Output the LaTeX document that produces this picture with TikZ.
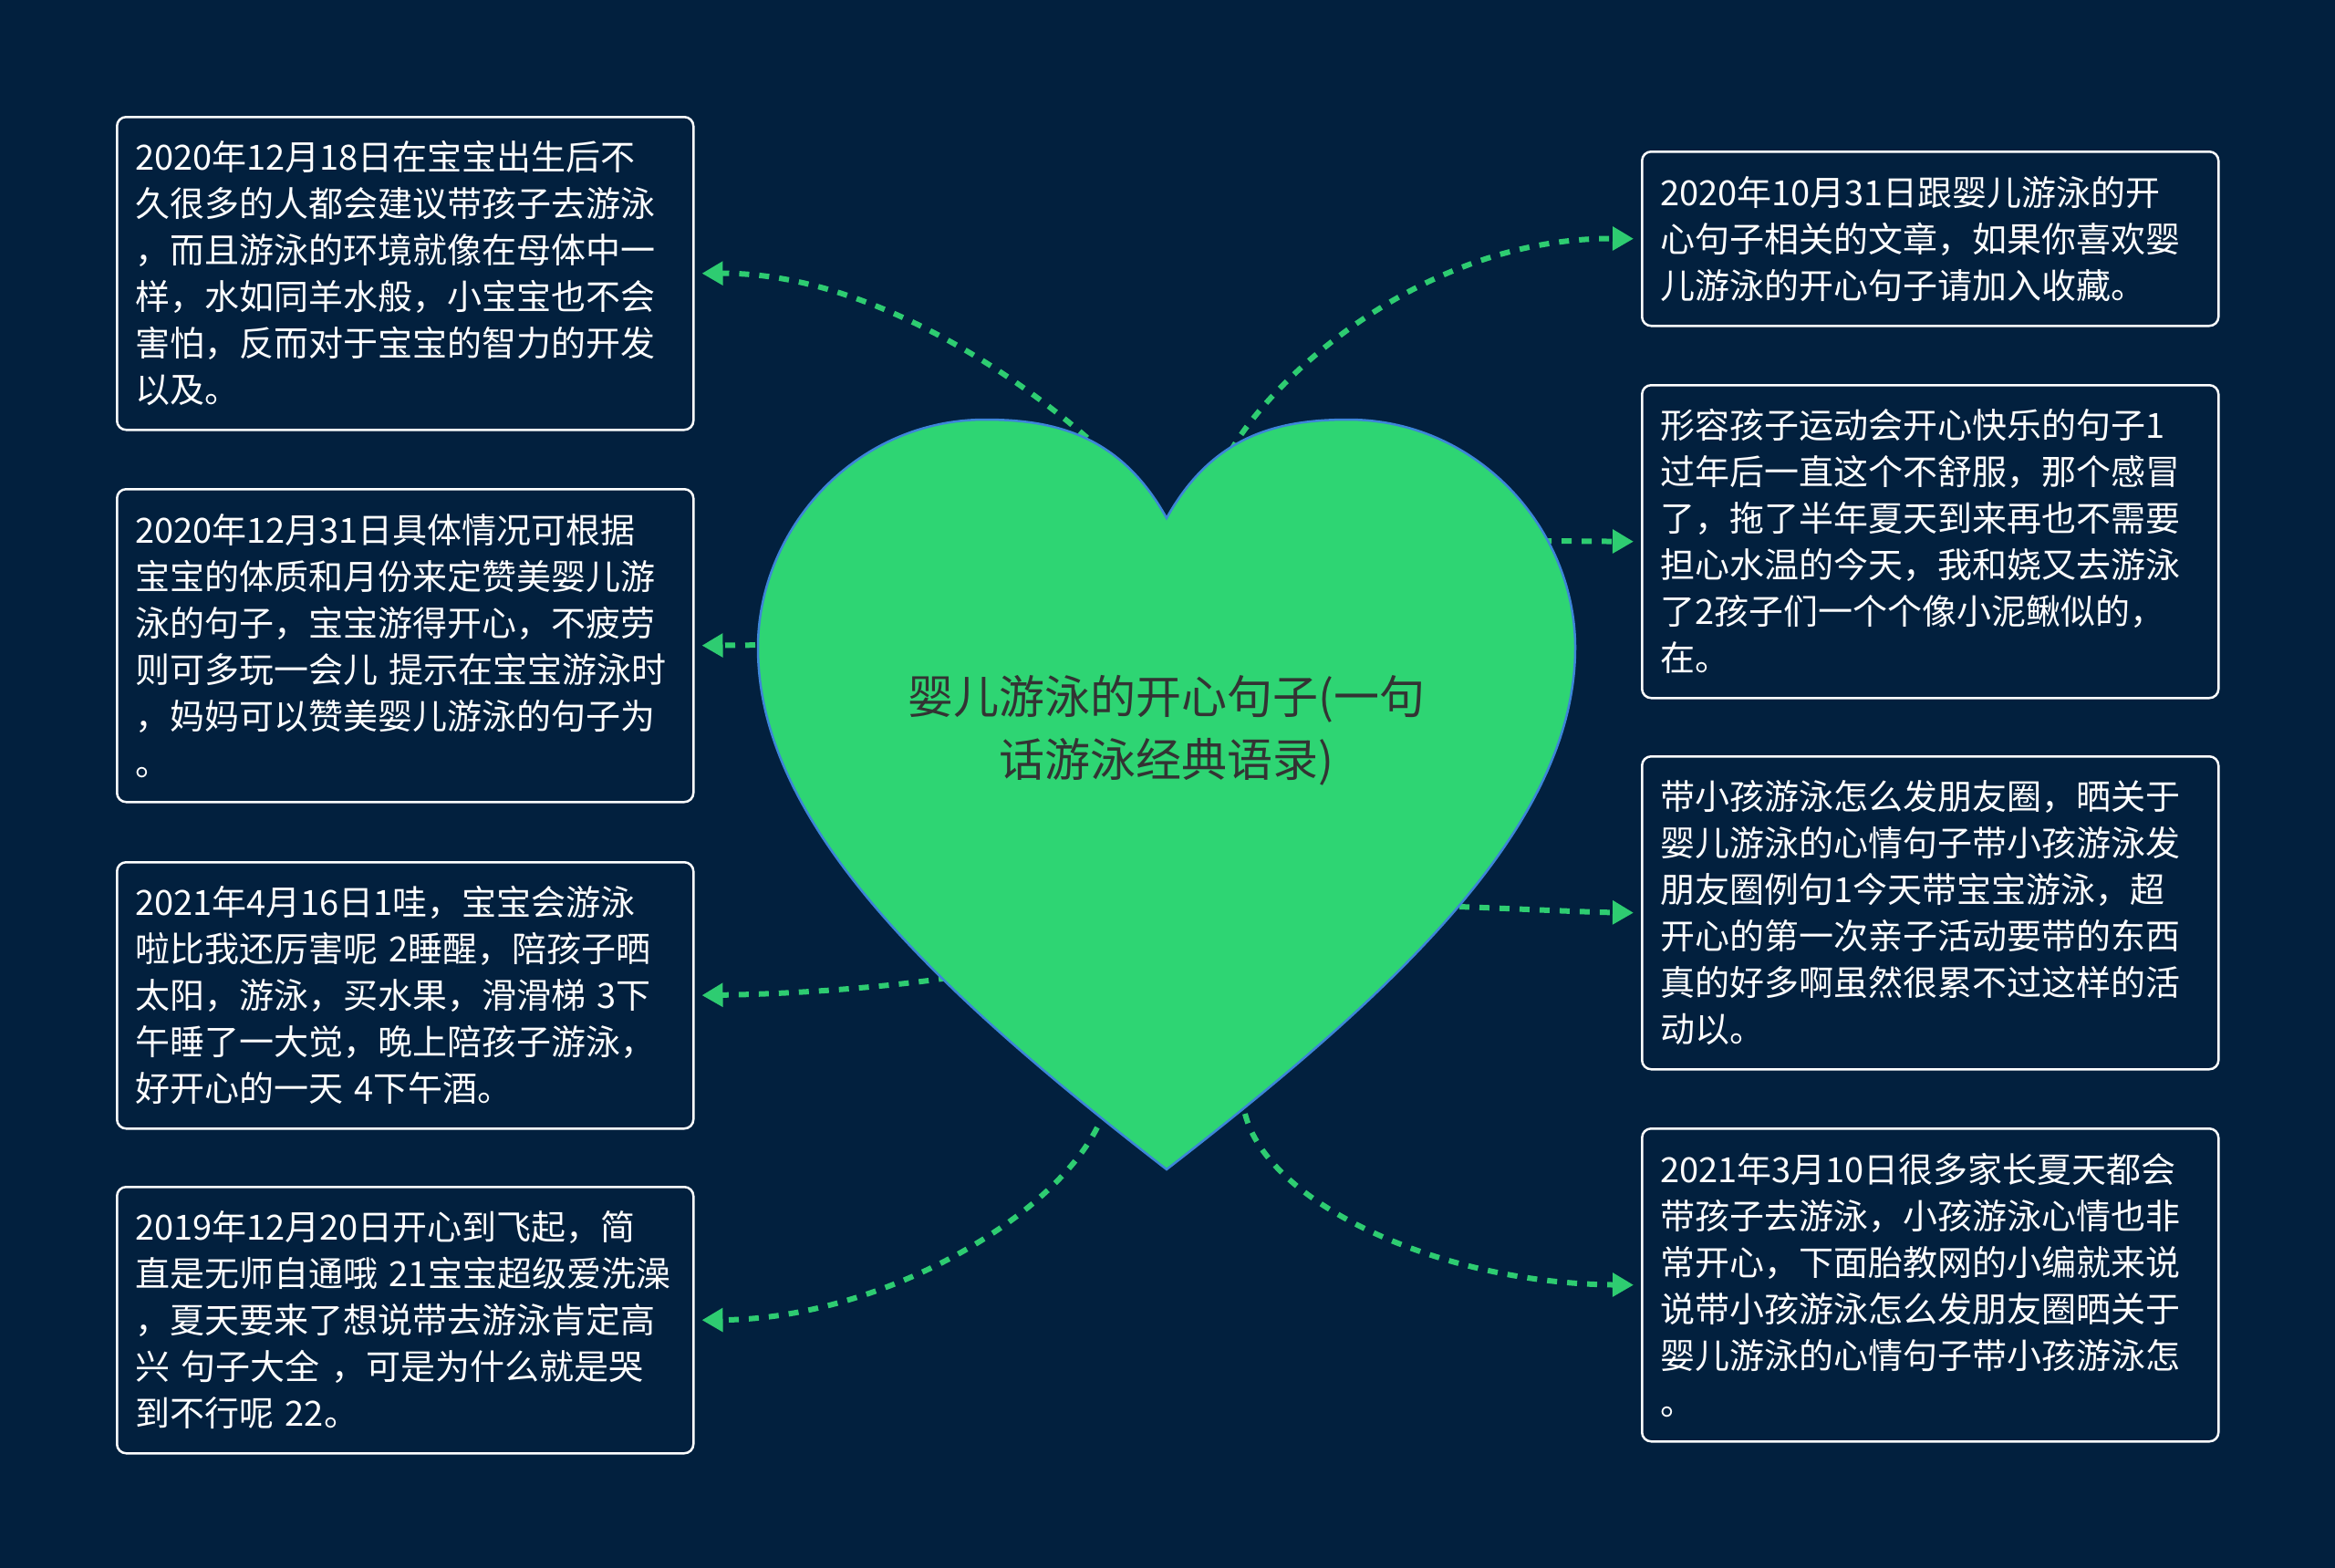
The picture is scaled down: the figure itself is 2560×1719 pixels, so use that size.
\documentclass[tikz,border=0pt]{standalone}
\usepackage{fontspec}
\newfontfamily\cjk{Noto Sans CJK SC}
\usetikzlibrary{arrows.meta}
\definecolor{bg}{HTML}{02203E}
\definecolor{heartgreen}{HTML}{2ED573}
\definecolor{heartline}{HTML}{3D85D8}
\definecolor{conngreen}{HTML}{2ECC71}
\definecolor{hearttext}{HTML}{333333}
\begin{document}
\begin{tikzpicture}[x=1pt,y=-1pt,
  box/.style={draw=white, line width=2.5pt, rounded corners=10pt, fill=bg,
    minimum width=632pt, text width=592pt, inner xsep=20pt, inner ysep=0pt,
    align=left, text=white, font=\cjk\fontsize{38}{51}\selectfont, anchor=north west},
  conn/.style={draw=conngreen, line width=6pt, dash pattern=on 11pt off 11pt,
    -{Triangle[length=23pt,width=25pt,fill=conngreen]}, shorten >=8pt},
  titletext/.style={font=\cjk\fontsize{50}{69}\selectfont, text=hearttext, align=center}
]
\useasboundingbox (0,0) rectangle (2560,1719);
\fill[bg] (0,0) rectangle (2560,1719);

% boxes
\node[box, minimum height=343pt] (L1) at (127,127) {2020年12月18日在宝宝出生后不\\久很多的人都会建议带孩子去游泳\\，而且游泳的环境就像在母体中一\\样，水如同羊水般，小宝宝也不会\\害怕，反而对于宝宝的智力的开发\\以及。};
\node[box, minimum height=343pt] (L2) at (127,535) {2020年12月31日具体情况可根据\\宝宝的体质和月份来定赞美婴儿游\\泳的句子，宝宝游得开心，不疲劳\\则可多玩一会儿 提示在宝宝游泳时\\，妈妈可以赞美婴儿游泳的句子为\\。};
\node[box, minimum height=292pt] (L3) at (127,944) {2021年4月16日1哇，宝宝会游泳\\啦比我还厉害呢 2睡醒，陪孩子晒\\太阳，游泳，买水果，滑滑梯 3下\\午睡了一大觉，晚上陪孩子游泳，\\好开心的一天 4下午酒。};
\node[box, minimum height=292pt] (L4) at (127,1300) {2019年12月20日开心到飞起，简\\直是无师自通哦 21宝宝超级爱洗澡\\，夏天要来了想说带去游泳肯定高\\兴 句子大全 ，可是为什么就是哭\\到不行呢 22。};
\node[box, minimum height=191pt] (R1) at (1799,165) {2020年10月31日跟婴儿游泳的开\\心句子相关的文章，如果你喜欢婴\\儿游泳的开心句子请加入收藏。};
\node[box, minimum height=343pt] (R2) at (1799,421) {形容孩子运动会开心快乐的句子1\\过年后一直这个不舒服，那个感冒\\了，拖了半年夏天到来再也不需要\\担心水温的今天，我和娆又去游泳\\了2孩子们一个个像小泥鳅似的，\\在。};
\node[box, minimum height=343pt] (R3) at (1799,828) {带小孩游泳怎么发朋友圈，晒关于\\婴儿游泳的心情句子带小孩游泳发\\朋友圈例句1今天带宝宝游泳，超\\开心的第一次亲子活动要带的东西\\真的好多啊虽然很累不过这样的活\\动以。};
\node[box, minimum height=343pt] (R4) at (1799,1236) {2021年3月10日很多家长夏天都会\\带孩子去游泳，小孩游泳心情也非\\常开心，下面胎教网的小编就来说\\说带小孩游泳怎么发朋友圈晒关于\\婴儿游泳的心情句子带小孩游泳怎\\。};

% connector start points on the heart
\coordinate (h1) at (1192,480);
\coordinate (h2) at (850,707);
\coordinate (h3) at (1040,1072);
\coordinate (h4) at (1203,1236);
\coordinate (h5) at (1349,495);
\coordinate (h6) at (1690,593);
\coordinate (h7) at (1600,994);
\coordinate (h8) at (1365,1221);

% connectors
\draw[conn] (h1) .. controls (1112,410) and (950,299) .. (L1.east);
\draw[conn] (h2) -- (L2.east);
\draw[conn] (h3) .. controls (950,1085) and (850,1090) .. (L3.east);
\draw[conn] (h4) .. controls (1150,1340) and (960,1446) .. (L4.east);
\draw[conn] (h5) .. controls (1394,415) and (1560,260) .. (R1.west);
\draw[conn] (h6) -- (R2.west);
\draw[conn] (h7) .. controls (1680,997) and (1740,1000) .. (R3.west);
\draw[conn] (h8) .. controls (1390,1320) and (1580,1407) .. (R4.west);

% heart
\path[fill=heartgreen, draw=heartline, line width=2.5pt]
 (1279,568) .. controls (1329,478) and (1400,460) .. (1478,460)
 .. controls (1620,460) and (1727,580) .. (1727,710)
 .. controls (1727,900) and (1540,1080) .. (1279,1282)
 .. controls (1018,1080) and (831,900) .. (831,710)
 .. controls (831,580) and (938,460) .. (1080,460)
 .. controls (1158,460) and (1229,478) .. (1279,568) -- cycle;

\node[titletext] (title) at (1279,801) {婴儿游泳的开心句子(一句\\话游泳经典语录)};
\end{tikzpicture}
\end{document}
